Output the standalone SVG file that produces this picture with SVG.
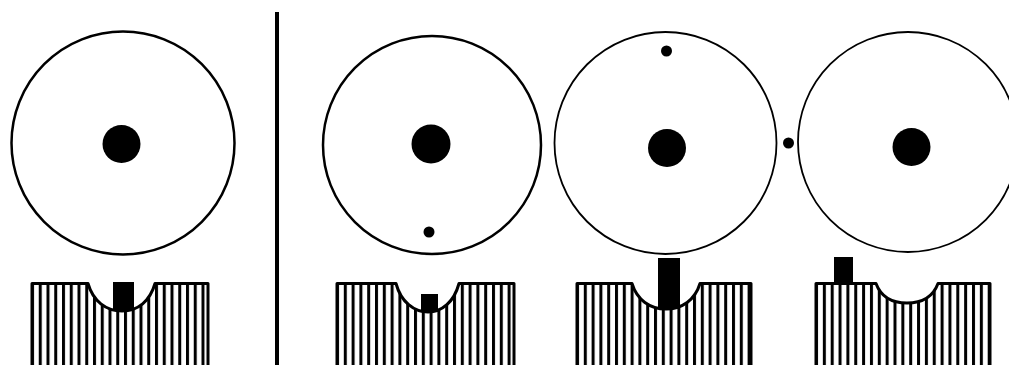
<svg xmlns="http://www.w3.org/2000/svg" width="1009" height="365" viewBox="0 0 1009 365">
<style>
.disc{fill:#fff;stroke:#000}
.dot{fill:#000}
.edge{fill:none;stroke:#000;stroke-width:3;stroke-linejoin:round}
.stem{fill:#000}
</style>
<defs>
<pattern id="h1" patternUnits="userSpaceOnUse" x="31" y="0" width="7.75" height="10"><rect width="7.75" height="10" fill="#fff"/><rect width="3" height="10" fill="#000"/></pattern>
<pattern id="h2" patternUnits="userSpaceOnUse" x="336" y="0" width="7.8" height="10"><rect width="7.8" height="10" fill="#fff"/><rect width="3" height="10" fill="#000"/></pattern>
<pattern id="h3" patternUnits="userSpaceOnUse" x="576" y="0" width="7.8" height="10"><rect width="7.8" height="10" fill="#fff"/><rect width="3" height="10" fill="#000"/></pattern>
<pattern id="h4" patternUnits="userSpaceOnUse" x="815" y="0" width="7.85" height="10"><rect width="7.85" height="10" fill="#fff"/><rect width="3" height="10" fill="#000"/></pattern>
</defs>
<rect width="1009" height="365" fill="#fff"/>
<rect id="divider" x="275" y="12" width="4" height="353" fill="#000"/>
<g id="panel-1">
<circle class="disc" cx="123" cy="143" r="111.5" stroke-width="2.5"/>
<circle class="dot" cx="121.500" cy="144" r="19"/>
<path d="M32 365V283.500H88C93 301 106 311 122 311S150 301 155 283.500H208V365Z" fill="url(#h1)"/>
<path class="edge" d="M32 365V283.500H88C93 301 106 311 122 311S150 301 155 283.500H208V365"/>
<rect class="stem" x="113" y="282" width="21" height="29"/>
</g>
<g id="panel-2">
<circle class="disc" cx="432" cy="145" r="109" stroke-width="2.500"/>
<circle class="dot" cx="431" cy="144" r="19.500"/>
<circle class="dot" cx="429" cy="232" r="5.500"/>
<path d="M337 365V283.500H396C401 302 414 312 428 312S454 302 459 283.500H514V365Z" fill="url(#h2)"/>
<path class="edge" d="M337 365V283.500H396C401 302 414 312 428 312S454 302 459 283.500H514V365"/>
<rect class="stem" x="421" y="294" width="17" height="18"/>
</g>
<g id="panel-3">
<circle class="disc" cx="665.500" cy="143" r="111" stroke-width="1.800"/>
<circle class="dot" cx="667" cy="148" r="19"/>
<circle class="dot" cx="666.500" cy="51" r="5.500"/>
<path d="M577 365V283.500H632C637 300 650 309 666 309S695 300 700 283.500H751V365Z" fill="url(#h3)"/>
<path class="edge" d="M577 365V283.500H632C637 300 650 309 666 309S695 300 700 283.500H751V365"/>
<rect class="stem" x="658" y="258" width="22" height="51"/>
</g>
<g id="panel-4">
<circle class="disc" cx="908" cy="142" r="110" stroke-width="1.800"/>
<circle class="dot" cx="911.500" cy="147" r="19"/>
<circle class="dot" cx="788.500" cy="143" r="5.500"/>
<path d="M816 365V283.500H876C881 297 892 303 907 303S933 297 938 283.500H990V365Z" fill="url(#h4)"/>
<path class="edge" d="M816 365V283.500H876C881 297 892 303 907 303S933 297 938 283.500H990V365"/>
<rect class="stem" x="834" y="257" width="19" height="26"/>
</g>
</svg>
